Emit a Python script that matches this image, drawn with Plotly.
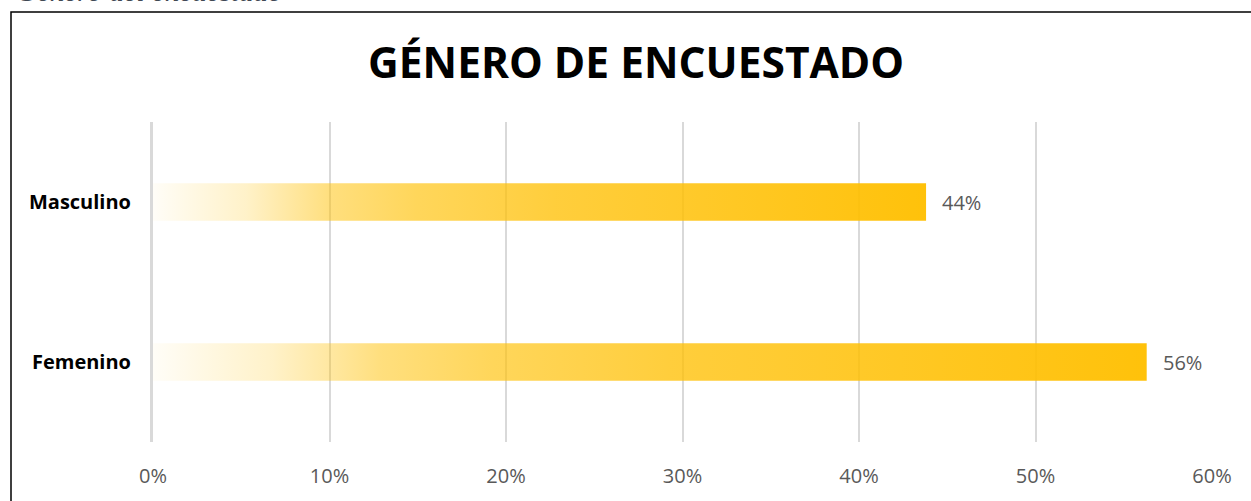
import plotly.graph_objects as go

# ---- data ----
categories = ["Femenino", "Masculino"]
values = [0.563, 0.438]
value_labels = ["56%", "44%"]
tick_vals = [0, 0.1, 0.2, 0.3, 0.4, 0.5, 0.6]
tick_text = ["0%", "10%", "20%", "30%", "40%", "50%", "60%"]
title_text = "GÉNERO DE ENCUESTADO"
caption_text = "Género del encuestado"

OFF = 0  # page body margin (removed via post_script)
W, H = 1251, 501
ML, MT = 153 - OFF, 122 - OFF
MR = W - (1212 - OFF)
MB = H - (445 - OFF)
PW, PH = W - ML - MR, H - MT - MB

def px_x(px):
    return (px - OFF - ML) / PW

def px_y(py):
    return 1 + (MT - (py - OFF)) / PH

half = 0.1176
grad = [
    [0.0, "rgba(255,192,0,0.03)"],
    [0.12, "rgba(255,194,10,0.22)"],
    [0.23, "rgba(255,194,10,0.53)"],
    [0.34, "rgba(255,194,10,0.67)"],
    [0.52, "rgba(255,192,5,0.78)"],
    [1.0, "rgba(255,191,0,0.96)"],
]

fig = go.Figure()
for i, (c, v) in enumerate(zip(categories, values)):
    fig.add_trace(go.Scatter(
        x=[0, v, v, 0, 0],
        y=[i - half, i - half, i + half, i + half, i - half],
        mode="lines", line=dict(width=0),
        fill="toself",
        fillgradient=dict(type="horizontal", colorscale=grad),
        name=c, showlegend=False, hoverinfo="skip",
    ))

for i, (v, t) in enumerate(zip(values, value_labels)):
    fig.add_annotation(x=v, y=i, text=t, showarrow=False, xanchor="left",
                       xshift=14, font=dict(family="Open Sans", size=20, color="#595959"))

fig.add_annotation(xref="paper", yref="paper", x=px_x(636), y=px_y(61),
                   text="<b>" + title_text + "</b>", showarrow=False,
                   xanchor="center", yanchor="middle",
                   font=dict(family="Open Sans", size=42.5, color="#000000"))

fig.add_annotation(xref="paper", yref="paper", x=px_x(14), y=px_y(-10),
                   text="<i>" + caption_text + "</i>", showarrow=False,
                   xanchor="left", yanchor="middle",
                   font=dict(family="Liberation Serif", size=29, color="#404853"))

fig.add_shape(type="rect", xref="paper", yref="paper",
              x0=px_x(11), x1=px_x(1262), y0=px_y(11), y1=px_y(530),
              line=dict(color="#000000", width=1.5), fillcolor="rgba(0,0,0,0)", layer="above")

fig.update_xaxes(range=[0, 0.6], tickvals=tick_vals, ticktext=tick_text,
                 showgrid=True, gridcolor="#D9D9D9", gridwidth=1.6,
                 zeroline=False, showline=False, ticks="",
                 ticklabelstandoff=20,
                 tickfont=dict(family="Open Sans", size=20, color="#595959"))
fig.update_yaxes(range=[-0.5, 1.5], tickvals=[0, 1], ticktext=categories,
                 showgrid=False, zeroline=False, ticks="",
                 showline=True, linecolor="#D9D9D9", linewidth=3,
                 ticklabelstandoff=15,
                 tickfont=dict(family="Open Sans", size=20, color="#000000", weight="bold"))

fig.update_layout(width=W, height=H, margin=dict(l=ML, r=MR, t=MT, b=MB),
                  plot_bgcolor="white", paper_bgcolor="white", showlegend=False)

fig.write_html("out.html", config={"displayModeBar": False},
               post_script="document.body.style.margin='0px';document.body.style.overflow='hidden';")
